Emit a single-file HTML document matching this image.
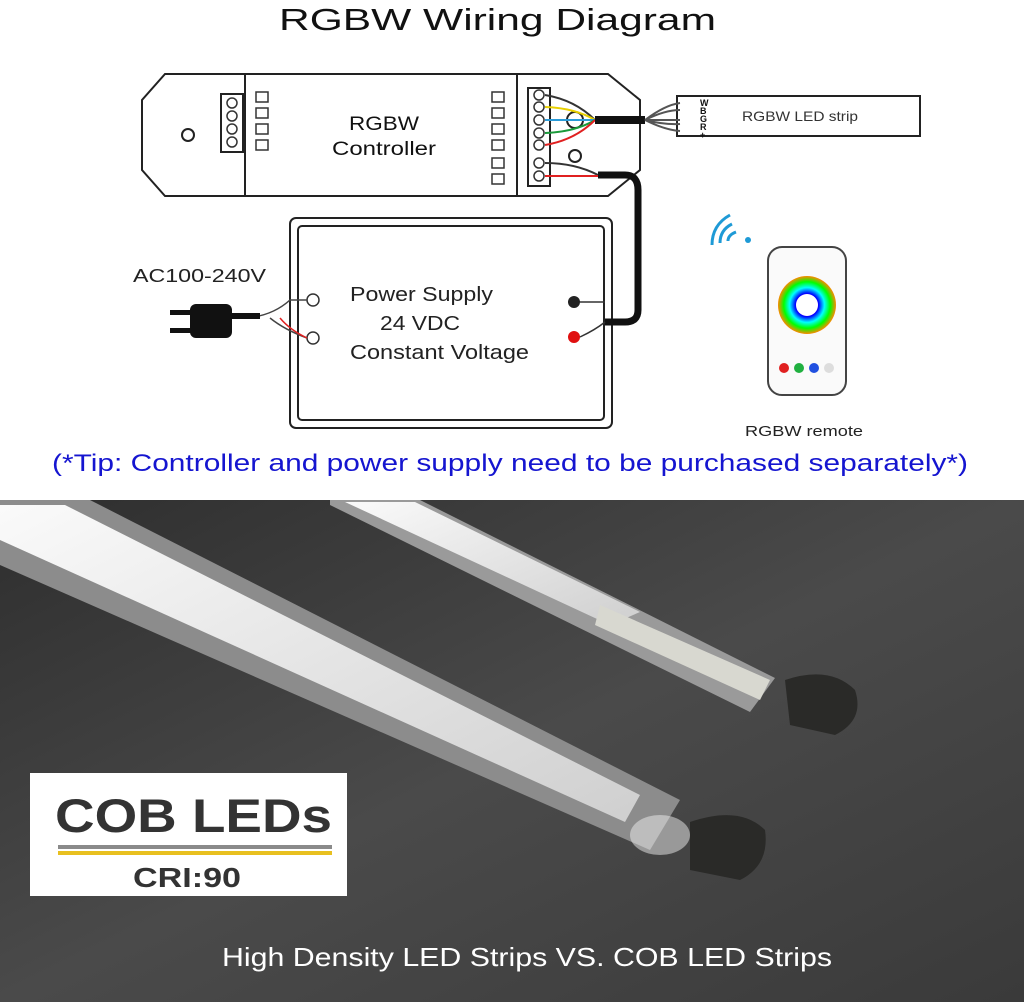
<!DOCTYPE html>
<html><head><meta charset="utf-8"><style>
body{margin:0;width:1024px;height:1002px;overflow:hidden;background:#fff;font-family:"Liberation Sans",sans-serif}
</style></head><body>
<svg width="1024" height="1002" viewBox="0 0 1024 1002" xmlns="http://www.w3.org/2000/svg" style="position:absolute;left:0;top:0">
<defs>
<linearGradient id="bg" x1="0" y1="0" x2="1" y2="1">
<stop offset="0" stop-color="#2e2e2e"/><stop offset="0.5" stop-color="#4a4a4a"/><stop offset="1" stop-color="#3a3a3a"/></linearGradient>
<linearGradient id="bar" x1="0" y1="0" x2="1" y2="1"><stop offset="0" stop-color="#fafafa"/><stop offset="1" stop-color="#cfcfcf"/></linearGradient>
<radialGradient id="rw"><stop offset="0" stop-color="#fff"/><stop offset=".2" stop-color="#f0f"/><stop offset=".4" stop-color="#00f"/><stop offset=".6" stop-color="#0ff"/><stop offset=".8" stop-color="#0f0"/><stop offset="1" stop-color="#f80"/></radialGradient>
</defs>
<text x="279" y="30" font-size="31" textLength="437" lengthAdjust="spacingAndGlyphs" fill="#111">RGBW Wiring Diagram</text>
<g fill="none" stroke="#222" stroke-width="2">
<path d="M165 74 H608 L640 100 V170 L608 196 H165 L142 170 V100 Z"/>
<rect x="245" y="74" width="272" height="122"/>
<rect x="221" y="94" width="22" height="58"/>
<rect x="528" y="88" width="22" height="98"/>
<circle cx="188" cy="135" r="6"/><circle cx="575" cy="120" r="8"/><circle cx="575" cy="156" r="6"/>
<rect x="290" y="218" width="322" height="210" rx="6"/>
<rect x="298" y="226" width="306" height="194" rx="4"/>
<rect x="677" y="96" width="243" height="40"/>
</g>
<g fill="none" stroke="#333" stroke-width="1.5">
<circle cx="232" cy="103" r="5"/><circle cx="232" cy="116" r="5"/><circle cx="232" cy="129" r="5"/><circle cx="232" cy="142" r="5"/>
<circle cx="539" cy="95" r="5"/><circle cx="539" cy="107" r="5"/><circle cx="539" cy="120" r="5"/><circle cx="539" cy="133" r="5"/><circle cx="539" cy="145" r="5"/><circle cx="539" cy="163" r="5"/><circle cx="539" cy="176" r="5"/>
<rect x="256" y="92" width="12" height="10"/><rect x="256" y="108" width="12" height="10"/><rect x="256" y="124" width="12" height="10"/><rect x="256" y="140" width="12" height="10"/>
<rect x="492" y="92" width="12" height="10"/><rect x="492" y="108" width="12" height="10"/><rect x="492" y="124" width="12" height="10"/><rect x="492" y="140" width="12" height="10"/><rect x="492" y="158" width="12" height="10"/><rect x="492" y="174" width="12" height="10"/>
<circle cx="313" cy="300" r="6"/><circle cx="313" cy="338" r="6"/>
</g>
<text x="349" y="130" font-size="19" textLength="70" lengthAdjust="spacingAndGlyphs" fill="#111">RGBW</text>
<text x="332" y="155" font-size="19" textLength="104" lengthAdjust="spacingAndGlyphs" fill="#111">Controller</text>
<path d="M545 95 Q575 100 595 120" stroke="#333" fill="none" stroke-width="2"/>
<path d="M545 107 Q575 108 595 120" stroke="#e8d000" fill="none" stroke-width="2"/>
<path d="M545 120 H595" stroke="#2a9bd8" fill="none" stroke-width="2"/>
<path d="M545 133 Q575 132 595 120" stroke="#1a9a3a" fill="none" stroke-width="2"/>
<path d="M545 145 Q575 140 595 120" stroke="#e02020" fill="none" stroke-width="2"/>
<path d="M545 163 Q575 163 598 175" stroke="#333" fill="none" stroke-width="2"/>
<path d="M545 176 H598" stroke="#e02020" fill="none" stroke-width="2"/>
<path d="M595 120 H645" stroke="#111" stroke-width="8"/>
<path d="M645 120 Q665 105 680 103 M645 120 Q665 110 680 110 M645 120 H680 M645 120 Q665 125 680 124 M645 120 Q665 130 680 131" stroke="#555" fill="none" stroke-width="2"/>
<g font-size="9" fill="#111" font-weight="bold"><text x="700" y="106">W</text><text x="700" y="114">B</text><text x="700" y="122">G</text><text x="700" y="130">R</text><text x="700" y="138">+</text></g>
<text x="742" y="121" font-size="14" textLength="116" lengthAdjust="spacingAndGlyphs" fill="#333">RGBW LED strip</text>
<path d="M598 175 H625 Q638 175 638 190 V310 Q638 322 625 322 H605" stroke="#111" fill="none" stroke-width="7"/>
<circle cx="574" cy="302" r="6" fill="#222"/><circle cx="574" cy="337" r="6" fill="#e01010"/>
<path d="M580 302 H605 M580 337 Q595 330 605 322" stroke="#333" fill="none" stroke-width="1.5"/>
<text x="350" y="301" font-size="20" textLength="143" lengthAdjust="spacingAndGlyphs" fill="#222">Power Supply</text>
<text x="380" y="330" font-size="20" textLength="80" lengthAdjust="spacingAndGlyphs" fill="#222">24 VDC</text>
<text x="350" y="359" font-size="20" textLength="179" lengthAdjust="spacingAndGlyphs" fill="#222">Constant Voltage</text>
<text x="133" y="282" font-size="18" textLength="133" lengthAdjust="spacingAndGlyphs" fill="#222">AC100-240V</text>
<path d="M240 318 Q270 318 290 300 H307 M270 318 Q285 330 307 338" stroke="#444" fill="none" stroke-width="1.5"/>
<path d="M280 318 Q290 330 307 338" stroke="#e02020" fill="none" stroke-width="1.5"/>
<rect x="190" y="304" width="42" height="34" rx="6" fill="#111"/>
<rect x="170" y="310" width="22" height="5" fill="#111"/><rect x="170" y="328" width="22" height="5" fill="#111"/>
<path d="M232 316 H260" stroke="#111" stroke-width="6"/>
<path d="M712 245 Q712 225 730 215 M720 243 Q720 230 732 224 M728 241 Q728 235 736 232" stroke="#1e9ad6" fill="none" stroke-width="3"/>
<circle cx="748" cy="240" r="3" fill="#1e9ad6"/>
<rect x="768" y="247" width="78" height="148" rx="14" fill="#fafafa" stroke="#444" stroke-width="2"/>
<circle cx="807" cy="305" r="29" fill="url(#rw)"/><circle cx="807" cy="305" r="11" fill="#fff"/>
<circle cx="784" cy="368" r="5" fill="#e02020"/><circle cx="799" cy="368" r="5" fill="#20b040"/><circle cx="814" cy="368" r="5" fill="#2050e0"/><circle cx="829" cy="368" r="5" fill="#ddd"/>
<text x="745" y="436" font-size="15" textLength="118" lengthAdjust="spacingAndGlyphs" fill="#222">RGBW remote</text>
<text x="52" y="471" font-size="24" textLength="916" lengthAdjust="spacingAndGlyphs" fill="#1515d0">(*Tip: Controller and power supply need to be purchased separately*)</text>
<rect x="0" y="500" width="1024" height="502" fill="url(#bg)"/>
<polygon points="0,500 90,500 680,800 650,850 0,565" fill="#8c8c8c"/>
<polygon points="0,505 65,505 640,795 625,822 0,540" fill="url(#bar)"/>
<polygon points="330,500 420,500 775,678 750,712 330,505" fill="#9a9a9a"/>
<polygon points="345,502 415,502 640,612 610,625" fill="url(#bar)"/>
<polygon points="600,605 770,680 760,700 595,625" fill="#d8d8d0"/>
<path d="M785 680 Q830 665 855 690 Q865 720 835 735 L790 725 Z" fill="#2a2a28"/>
<path d="M690 822 Q740 805 765 830 Q770 865 740 880 L690 870 Z" fill="#2a2a28"/>
<ellipse cx="660" cy="835" rx="30" ry="20" fill="#eee" opacity=".5"/>
<rect x="30" y="773" width="317" height="123" fill="#fff"/>
<text x="55" y="832" font-size="47" font-weight="bold" textLength="277" lengthAdjust="spacingAndGlyphs" fill="#333">COB LEDs</text>
<rect x="58" y="845" width="274" height="4" fill="#8a8a8a"/>
<rect x="58" y="851" width="274" height="4" fill="#e8c020"/>
<text x="133" y="887" font-size="28" font-weight="bold" textLength="108" lengthAdjust="spacingAndGlyphs" fill="#333">CRI:90</text>
<text x="222" y="966" font-size="26" textLength="610" lengthAdjust="spacingAndGlyphs" fill="#fff">High Density LED Strips VS. COB LED Strips</text>
</svg>
</body></html>
